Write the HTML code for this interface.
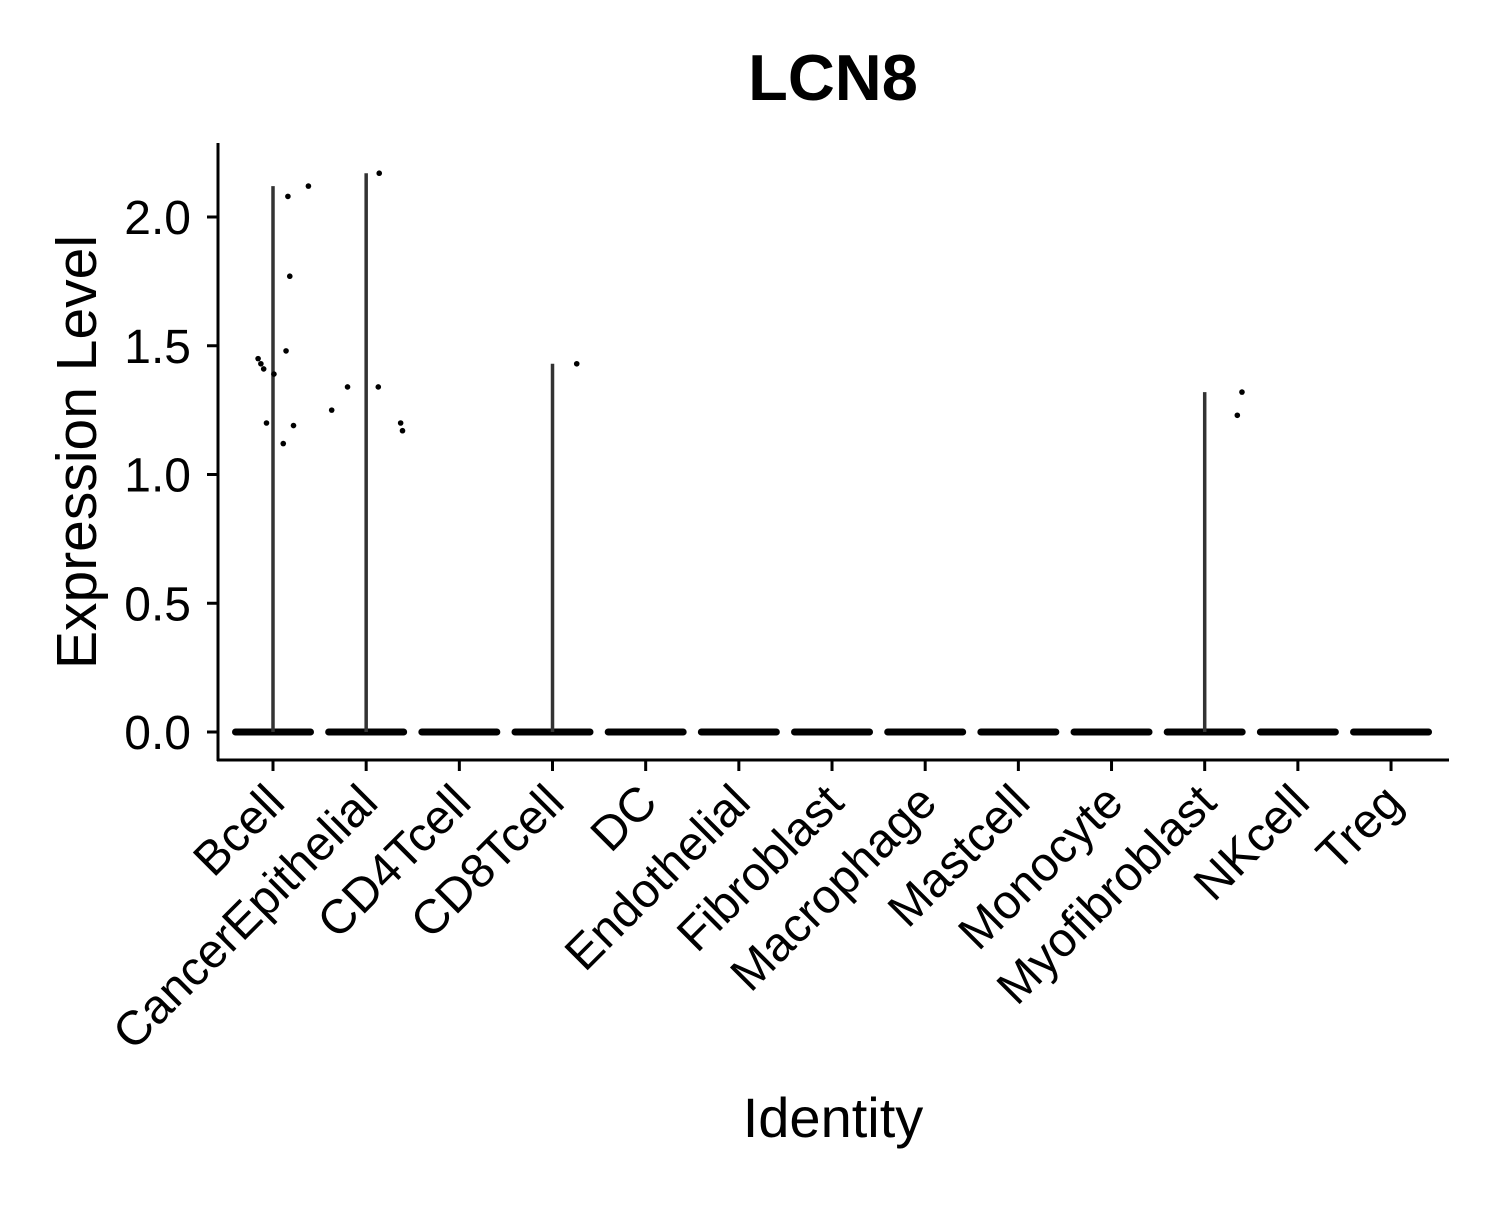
<!DOCTYPE html>
<html><head><meta charset="utf-8"><style>
html,body{margin:0;padding:0;background:#fff;}
svg text{font-family:"Liberation Sans",Arial,sans-serif;}
</style></head><body>
<svg id="chart" width="1500" height="1200" xmlns="http://www.w3.org/2000/svg">
<rect width="1500" height="1200" fill="#fff"/>
<text x="833" y="100" font-size="65" font-weight="bold" text-anchor="middle">LCN8</text>
<g id="plot"></g>
<line x1="218" y1="143" x2="218" y2="761" stroke="#000" stroke-width="3"/>
<line x1="217" y1="760" x2="1449" y2="760" stroke="#000" stroke-width="3"/>
<text transform="translate(96,452) rotate(-90)" font-size="57" text-anchor="middle">Expression Level</text>
<text x="833" y="1137" font-size="56" text-anchor="middle">Identity</text>
</svg>
<script>
const categories=["Bcell","CancerEpithelial","CD4Tcell","CD8Tcell","DC","Endothelial","Fibroblast","Macrophage","Mastcell","Monocyte","Myofibroblast","NKcell","Treg"];
const violinMax=[2.12,2.17,0,1.43,0,0,0,0,0,0,1.32,0,0];
const yTicks=[0,0.5,1,1.5,2];
const yTickLabels=["0.0","0.5","1.0","1.5","2.0"];
const pointCat=[0,0,0,0,0,0,0,0,0,0,0,1,1,1,1,1,1,3,10,10];
const pointJitter=[-0.16,-0.13,-0.10,0.01,-0.07,0.11,0.14,0.18,0.16,0.38,0.22,-0.37,-0.20,0.13,0.14,0.37,0.39,0.26,0.40,0.35];
const pointVal=[1.45,1.43,1.41,1.39,1.20,1.12,1.48,1.77,2.08,2.12,1.19,1.25,1.34,1.34,2.17,1.20,1.17,1.43,1.32,1.23];
const NS="http://www.w3.org/2000/svg";
const svg=document.getElementById('chart');
const plot=document.getElementById('plot');
function xs(i){return 273+i*93.17;}
function ys(v){return 732-v*257.5;}
function mk(tag,attrs,parent){const e=document.createElementNS(NS,tag);for(const k in attrs)e.setAttribute(k,attrs[k]);(parent||svg).appendChild(e);return e;}
yTicks.forEach((t,i)=>{
  const l=mk('line',{x1:207,x2:218,y1:ys(t),y2:ys(t),stroke:'#000','stroke-width':3});
  
  
  const tx=mk('text',{x:191,y:ys(t)+17,'font-size':48,'text-anchor':'end'});
  tx.textContent=yTickLabels[i];
  
  
});
categories.forEach((c,i)=>{
  const x=xs(i);
  const l=mk('line',{x1:x,x2:x,y1:760,y2:771,stroke:'#000','stroke-width':3});
  
  
  const tx=mk('text',{transform:`translate(${x+14},${805}) rotate(-45)`,'font-size':48,'text-anchor':'end'});
  tx.textContent=c;
  
  
  const base=mk('rect',{x:x-41,y:ys(0)-3.5,width:82,height:7,rx:3.5,fill:'#000'},plot);
  
  
  if(violinMax[i]>0){
    const v=mk('line',{x1:x,x2:x,y1:ys(violinMax[i]),y2:ys(0),stroke:'#333','stroke-width':3.5},plot);
    
    
  }
});
pointVal.forEach((v,i)=>{
  const p=mk('circle',{cx:xs(pointCat[i]+pointJitter[i]),cy:ys(v),r:2.8,fill:'#000'},plot);
  
  
});
</script>
</body></html>
